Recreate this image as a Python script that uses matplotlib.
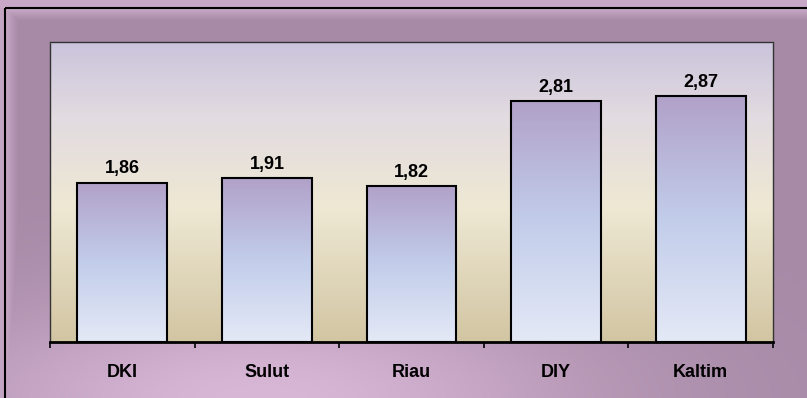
import numpy as np
import matplotlib.pyplot as plt
from matplotlib.colors import LinearSegmentedColormap
from matplotlib.patches import Rectangle

regions = ["DKI", "Sulut", "Riau", "DIY", "Kaltim"]
values = [1.86, 1.91, 1.82, 2.81, 2.87]
value_labels = ["1,86", "1,91", "1,82", "2,81", "2,87"]

plt.rcParams['font.family'] = ['Liberation Sans', 'DejaVu Sans']

W, H = 807, 398
fig = plt.figure(figsize=(W / 100, H / 100), dpi=100)

# outer mauve frame background
bg = fig.add_axes([0, 0, 1, 1], zorder=-10)
yy, xx = np.mgrid[0:H, 0:W]
w = np.exp(-((xx - 260) / 330.0) ** 2 - ((yy - 400) / 110.0) ** 2)
w = np.maximum(w, np.clip((20 - yy) / 12.0, 0, 1) * 0.7)
w = np.maximum(w, np.clip((18 - xx) / 12.0, 0, 1) * 0.6)
dark = np.array([0xa6, 0x8a, 0xa6]) / 255
light = np.array([0xd8, 0xb6, 0xd6]) / 255
img = dark[None, None, :] * (1 - w[..., None]) + light[None, None, :] * w[..., None]
bg.imshow(img, extent=[0, W, H, 0], aspect='auto')
bg.add_patch(Rectangle((5, 8), W + 10, H + 10, fill=False, edgecolor='black', lw=1.5))
bg.set_xlim(0, W)
bg.set_ylim(H, 0)
bg.axis('off')

ax = fig.add_axes([50 / W, (H - 342) / H, 723 / W, 300 / H])
ymax = 3.5
ax.set_xlim(-0.5, len(regions) - 0.5)
ax.set_ylim(0, ymax)

plot_cmap = LinearSegmentedColormap.from_list(
    'plotbg', [(0, '#d2c5a2'), (0.45, '#eee8d4'), (0.75, '#e2dbe0'), (1, '#cbc4dc')])
grad = np.linspace(0, 1, 256)[:, None]
ax.imshow(grad, cmap=plot_cmap, origin='lower', aspect='auto',
          extent=[-0.5, len(regions) - 0.5, 0, ymax], zorder=0)

bar_cmap = LinearSegmentedColormap.from_list(
    'barbg', [(0, '#e4e9f6'), (0.5, '#c2cdea'), (1, '#b1a1c9')])
bars = ax.bar(range(len(regions)), values, width=0.62, facecolor='none',
              edgecolor='black', linewidth=1.5, zorder=3)
for b, lab in zip(bars, value_labels):
    x0, h, bw = b.get_x(), b.get_height(), b.get_width()
    ax.imshow(grad, cmap=bar_cmap, origin='lower', aspect='auto',
              extent=[x0, x0 + bw, 0, h], zorder=2)
    ax.text(x0 + bw / 2, h + 0.06, lab, ha='center', va='bottom',
            fontsize=13, fontweight='bold', zorder=4)

ax.set_xlim(-0.5, len(regions) - 0.5)
ax.set_ylim(0, ymax)
ax.set_xticks(np.arange(-0.5, len(regions), 1.0))
ax.set_xticklabels([])
ax.set_xticks(range(len(regions)), minor=True)
ax.set_xticklabels(regions, minor=True, fontsize=13, fontweight='bold')
ax.tick_params(axis='x', which='minor', length=0, pad=16)
ax.tick_params(axis='x', which='major', length=4, width=1.2, direction='out')
ax.set_yticks([])
ax.spines['bottom'].set_linewidth(2)
for s in ['left', 'right', 'top']:
    ax.spines[s].set_linestyle((0, (1, 1)))
    ax.spines[s].set_linewidth(1)
    ax.spines[s].set_color('#333333')

fig.savefig('out.png', dpi=100)
